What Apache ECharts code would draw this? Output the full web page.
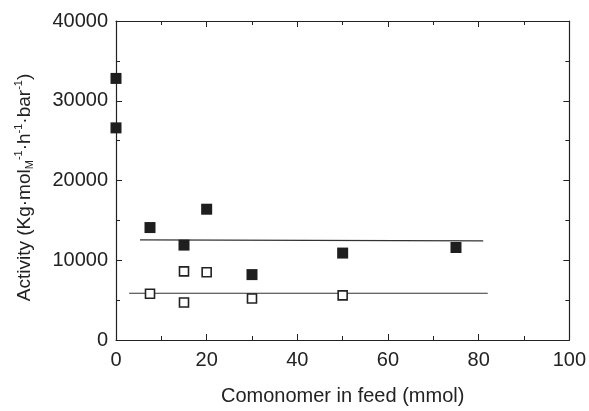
<!DOCTYPE html>
<html>
<head>
<meta charset="utf-8">
<script src="https://cdn.jsdelivr.net/npm/echarts@6/dist/echarts.min.js"></script>
<style>html,body{margin:0;padding:0;background:#fff}#c{width:589px;height:411px}</style>
</head>
<body>
<div id="c"></div>
<script>
// Data
const filledX = [0, 0, 7.5, 15, 20, 30, 50, 75];
const filledY = [32800, 26600, 14100, 11900, 16400, 8200, 10900, 11600];
const openX = [7.5, 15, 15, 20, 30, 50];
const openY = [5800, 8600, 4700, 8500, 5200, 5600];
const upperLineX = [5.3, 81];
const upperLineY = [12550, 12420];
const lowerLineX = [2.9, 82];
const lowerLineY = [5860, 5860];
const xTicks = [0, 20, 40, 60, 80, 100];
const yTicks = [0, 10000, 20000, 30000, 40000];

const zip = (a, b) => a.map((v, i) => [v, b[i]]);
const ink = '#222';
const font = 'Liberation Sans, Arial, sans-serif';

const chart = echarts.init(document.getElementById('c'), null, {renderer: 'canvas'});

const baseAxis = {
  type: 'value',
  axisLine: {show: true, onZero: false, lineStyle: {color: ink, width: 1.2}},
  axisTick: {show: true, inside: true, length: 6, lineStyle: {color: ink, width: 1}},
  minorTick: {show: true, splitNumber: 2, length: 4, lineStyle: {color: ink, width: 1}},
  splitLine: {show: false},
  minorSplitLine: {show: false}
};

chart.setOption({
  animation: false,
  backgroundColor: '#fff',
  grid: {left: 116, right: 19, top: 21, bottom: 67},
  xAxis: [
    Object.assign({}, baseAxis, {
      min: xTicks[0], max: xTicks[xTicks.length - 1], interval: 20,
      position: 'bottom',
      axisLabel: {color: ink, fontSize: 20, fontFamily: font, margin: 10},
      name: 'Comonomer in feed (mmol)',
      nameLocation: 'middle', nameGap: 46,
      nameTextStyle: {color: ink, fontSize: 20, fontFamily: font}
    }),
    Object.assign({}, baseAxis, {
      min: xTicks[0], max: xTicks[xTicks.length - 1], interval: 20,
      position: 'top', axisLabel: {show: false}
    })
  ],
  yAxis: [
    Object.assign({}, baseAxis, {
      min: yTicks[0], max: yTicks[yTicks.length - 1], interval: 10000,
      position: 'left',
      axisLabel: {color: ink, fontSize: 20, fontFamily: font, margin: 8,
        formatter: v => String(v)},
      name: '{n|Activity (Kg·mol}{sub|M}{sup|-1}{n|·h}{sup|-1}{n|·bar}{sup|-1}{n|)}',
      nameLocation: 'middle', nameGap: 80, nameRotate: 90,
      nameTextStyle: {
        color: ink, fontFamily: font, fontSize: 19,
        padding: [0, 14, 0, 0],
        rich: {
          n: {color: ink, fontFamily: font, fontSize: 19},
          sub: {color: ink, fontFamily: font, fontSize: 11, padding: [10, 0, 0, 0]},
          sup: {color: ink, fontFamily: font, fontSize: 11, padding: [0, 0, 12, 0]}
        }
      }
    }),
    Object.assign({}, baseAxis, {
      min: yTicks[0], max: yTicks[yTicks.length - 1], interval: 10000,
      position: 'right', axisLabel: {show: false}
    })
  ],
  series: [
    {
      type: 'line', data: zip(upperLineX, upperLineY), symbol: 'none',
      lineStyle: {color: '#333', width: 1.2}, z: 1
    },
    {
      type: 'line', data: zip(lowerLineX, lowerLineY), symbol: 'none',
      lineStyle: {color: '#333', width: 1.2}, z: 1
    },
    {
      type: 'scatter', data: zip(filledX, filledY), symbol: 'rect', symbolSize: 11,
      itemStyle: {color: '#1e1e1e', opacity: 1}, z: 3
    },
    {
      type: 'scatter', data: zip(openX, openY), symbol: 'rect', symbolSize: 9,
      itemStyle: {color: '#fff', borderColor: '#222', borderWidth: 1.6, opacity: 1}, z: 3
    }
  ]
});
</script>
</body>
</html>
